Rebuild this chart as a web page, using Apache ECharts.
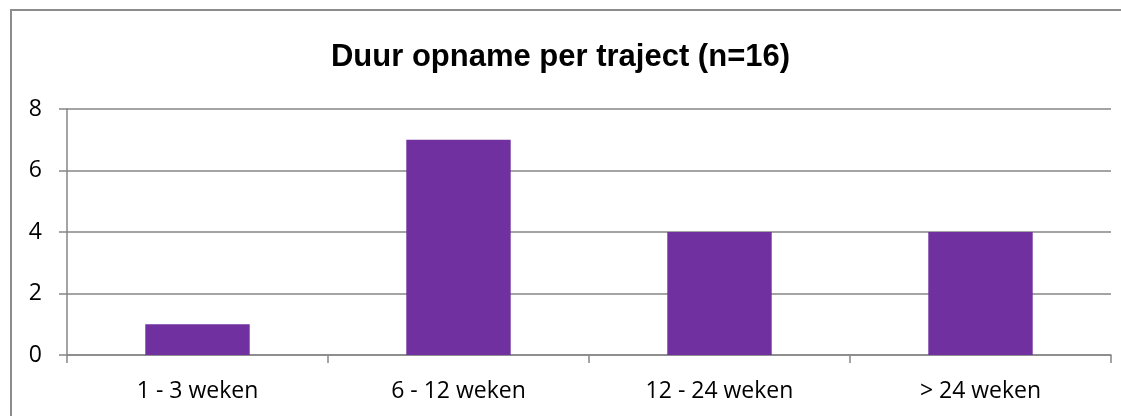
<!DOCTYPE html>
<html>
<head>
<meta charset="utf-8">
<script src="https://cdn.jsdelivr.net/npm/echarts@6/dist/echarts.min.js"></script>
<style>
html,body{margin:0;padding:0;background:#fff;}
#chart{width:1121px;height:416px;}
</style>
</head>
<body>
<div id="chart"></div>
<script>
const titleText = 'Duur opname per traject (n=16)';
const categories = ['1 - 3 weken', '6 - 12 weken', '12 - 24 weken', '> 24 weken'];
const values = [1, 7, 4, 4];
const yTicks = { min: 0, max: 8, interval: 2 };

const chart = echarts.init(document.getElementById('chart'));
chart.setOption({
  animation: false,
  backgroundColor: '#ffffff',
  title: {
    text: titleText,
    left: 'center',
    top: 37,
    textStyle: { fontFamily: 'Liberation Sans, Arial, sans-serif', fontWeight: 'bold', fontSize: 31, color: '#000' }
  },
  graphic: [{
    type: 'rect',
    shape: { x: 11, y: 10, width: 1120, height: 420 },
    style: { fill: 'none', stroke: '#8c8c8c', lineWidth: 2 },
    silent: true
  }],
  grid: { left: 67, right: 10, top: 109, bottom: 61, containLabel: false },
  xAxis: {
    type: 'category',
    data: categories,
    axisLine: { show: true, lineStyle: { color: '#868686', width: 1.5 } },
    axisTick: { show: true, length: 8, alignWithLabel: false, lineStyle: { color: '#868686', width: 1.5 } },
    axisLabel: { color: '#000', fontSize: 23, fontFamily: 'Open Sans, Liberation Sans, sans-serif', margin: 25 },
    splitLine: { show: false }
  },
  yAxis: {
    type: 'value',
    min: yTicks.min, max: yTicks.max, interval: yTicks.interval,
    axisLine: { show: true, lineStyle: { color: '#868686', width: 1.5 } },
    axisTick: { show: true, length: 8, lineStyle: { color: '#868686', width: 1.5 } },
    axisLabel: { color: '#000', fontSize: 23, fontFamily: 'Open Sans, Liberation Sans, sans-serif', margin: 25 },
    splitLine: { show: true, lineStyle: { color: '#868686', width: 1.5 } }
  },
  series: [{
    type: 'bar',
    data: values,
    barWidth: '40%',
    itemStyle: { color: '#7030A0' }
  }]
});
</script>
</body>
</html>
